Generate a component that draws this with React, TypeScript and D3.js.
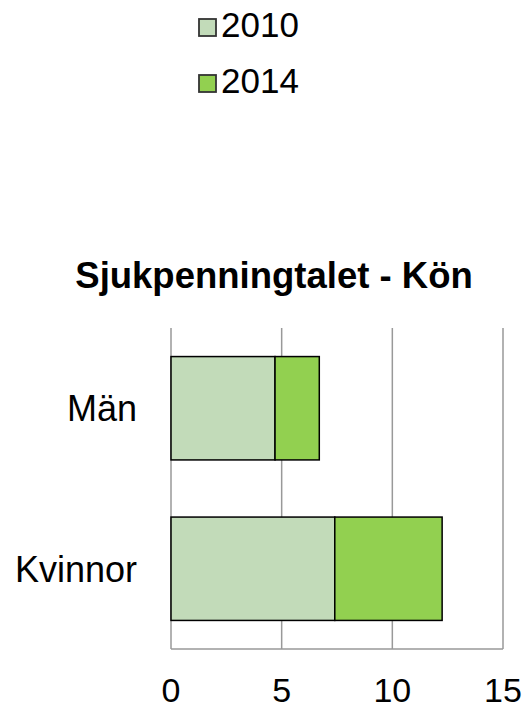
import React from "react";
import * as d3 from "d3";

const width = 527;
const height = 710;

const categories = ["Män", "Kvinnor"];
const years = ["2010", "2014"];
// stacked segments per category: [2010, 2014 increment]
const values2010 = [4.7, 7.4];
const values2014 = [2.0, 4.85];
const xTicks = [0, 5, 10, 15];
const colors = ["#c2dbb9", "#92d050"];

const margin = { top: 328, right: 24, bottom: 61, left: 171 };

export default function App() {
  const x = d3
    .scaleLinear()
    .domain([0, 15])
    .range([margin.left, width - margin.right]);

  const y = d3
    .scaleBand()
    .domain(categories)
    .range([margin.top, height - margin.bottom])
    .paddingInner(0.356)
    .paddingOuter(0.178);

  const rows = categories.map((c, i) => ({ cat: c, v2010: values2010[i], v2014: values2014[i] }));
  const stack = d3.stack().keys(["v2010", "v2014"]);
  const series = stack(rows as any);

  const font = "Arial, 'Liberation Sans', sans-serif";
  const bottom = height - margin.bottom;

  return (
    <svg width={width} height={height} style={{ position: "absolute", left: 0, top: 0 }}>
      <rect width={width} height={height} fill="#fff" />

      {/* legend */}
      {years.map((yr, i) => (
        <g key={yr} transform={`translate(199, ${19 + i * 56})`}>
          <rect x={0} y={0} width={17} height={17} fill={colors[i]} stroke="#333" strokeWidth={1.8} />
          <text x={22} y={18} fontFamily={font} fontSize={35} fill="#000">
            {yr}
          </text>
        </g>
      ))}

      <text x={274} y={288} textAnchor="middle" fontFamily={font} fontSize={36.5} fontWeight="bold">
        Sjukpenningtalet - Kön
      </text>

      {/* grid */}
      {xTicks.map((t) => (
        <line key={t} x1={x(t)} x2={x(t)} y1={margin.top} y2={bottom} stroke="#999" strokeWidth={1.5} />
      ))}
      <line x1={x(0)} x2={x(15)} y1={bottom} y2={bottom} stroke="#999" strokeWidth={1.5} />

      {/* bars */}
      {series.map((s, si) => (
        <g key={si}>
          {s.map((d, i) => (
            <rect
              key={i}
              x={x(d[0])}
              y={y(categories[i])}
              width={x(d[1]) - x(d[0])}
              height={y.bandwidth()}
              fill={colors[si]}
              stroke="#000"
              strokeWidth={1.5}
            />
          ))}
        </g>
      ))}

      {/* category labels */}
      {categories.map((c) => (
        <text
          key={c}
          x={137}
          y={(y(c) as number) + y.bandwidth() / 2}
          dy="0.36em"
          textAnchor="end"
          fontFamily={font}
          fontSize={36}
        >
          {c}
        </text>
      ))}

      {/* tick labels */}
      {xTicks.map((t) => (
        <text key={t} x={x(t)} y={702} textAnchor="middle" fontFamily={font} fontSize={34}>
          {t}
        </text>
      ))}
    </svg>
  );
}
